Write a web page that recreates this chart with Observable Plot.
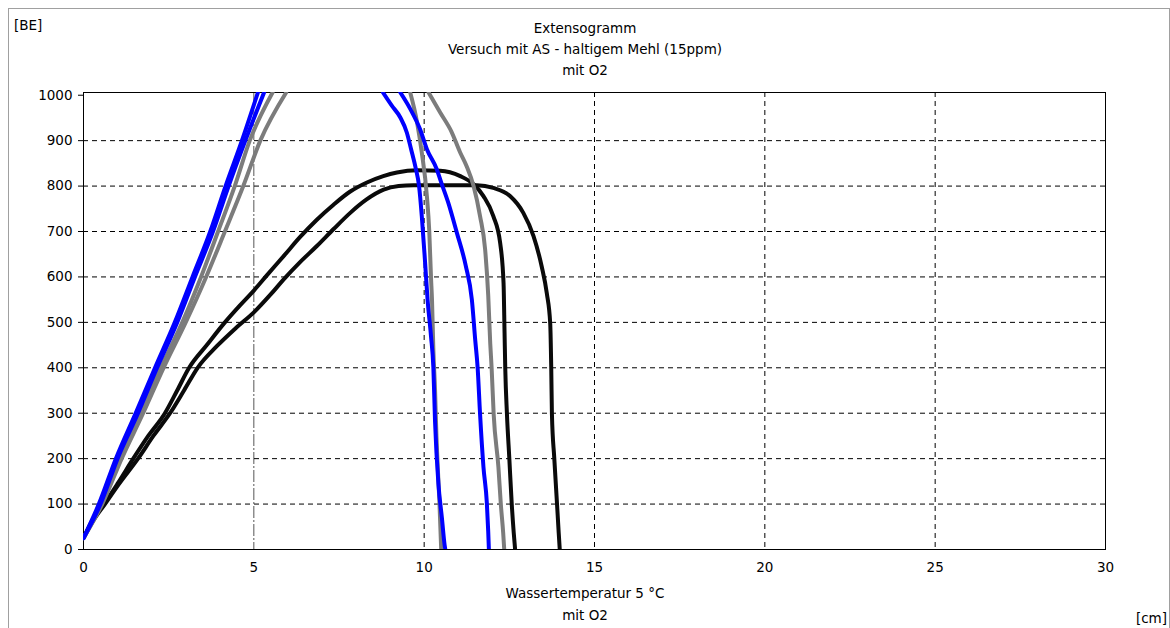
<!DOCTYPE html>
<html><head><meta charset="utf-8">
<script src="https://cdn.jsdelivr.net/npm/d3@7"></script>
<script src="https://cdn.jsdelivr.net/npm/@observablehq/plot@0.6"></script>
<style>
body{margin:0;background:#fff;}
#wrap{position:relative;width:1170px;height:628px;overflow:hidden;font-family:"DejaVu Sans",sans-serif;font-size:13.5px;color:#000;background:#fff;}
#border{position:absolute;left:8px;top:8px;width:1162px;height:700px;border:1px solid #a0a0a0;box-sizing:border-box;}
#chart{position:absolute;left:0;top:0;}
.t{position:absolute;white-space:nowrap;}
</style></head><body>
<div id="wrap">
  <div id="border"></div>
  <div id="chart"></div>
  <div class="t" id="title" style="left:0;width:1170px;text-align:center;top:18px;line-height:21px;"></div>
  <div class="t" id="ylab" style="left:14px;top:15px;line-height:20px;"></div>
  <div class="t" id="xcap" style="left:0;width:1170px;text-align:center;top:582px;line-height:22px;"></div>
  <div class="t" id="xunit" style="right:3px;top:608px;line-height:20px;"></div>
</div>
<script>
// ---- texts ----
const titleLines = ["Extensogramm", "Versuch mit AS - haltigem Mehl (15ppm)", "mit O2"];
const captionLines = ["Wassertemperatur 5 °C", "mit O2"];
const yUnit = "[BE]";
const xUnit = "[cm]";

// ---- ticks ----
const xTicks = [0, 5, 10, 15, 20, 25, 30];
const yTicks = [0, 100, 200, 300, 400, 500, 600, 700, 800, 900, 1000];

// ---- curves [cm, BE] (parts above 1000 are off-chart) ----
const blueAUp = [[0,25],[0.45,100],[0.95,200],[1.53,300],[2.1,400],[2.68,500],[3.2,600],[3.72,700],[4.17,800],[4.65,900],[5.12,1006]];
const blueADown = [[8.79,1006],[9.05,977],[9.3,951],[9.49,918],[9.62,880],[9.75,840],[9.85,800],[9.93,734],[10.02,640],[10.1,550],[10.2,470],[10.27,400],[10.32,280],[10.42,143],[10.52,70],[10.6,10],[10.62,0]];
const blueBUp = [[0,25],[0.5,100],[1.0,200],[1.6,300],[2.16,400],[2.75,500],[3.27,600],[3.8,700],[4.26,800],[4.75,900],[5.3,1006]];
const blueBDown = [[9.3,1006],[9.59,970],[9.88,925],[10.08,881],[10.37,837],[10.5,808],[10.7,765],[10.96,697],[11.22,625],[11.4,550],[11.5,460],[11.57,400],[11.64,299],[11.74,182],[11.84,102],[11.88,40],[11.9,0]];
const greyCUp = [[0,25],[0.5,100],[1.05,200],[1.68,300],[2.27,400],[2.9,500],[3.45,600],[3.95,700],[4.44,800],[4.88,900],[5.55,1006]];
const greyCDown = [[9.59,1006],[9.79,941],[9.93,874],[10.08,778],[10.15,700],[10.2,600],[10.23,549],[10.27,439],[10.32,350],[10.36,250],[10.4,180],[10.45,100],[10.5,0]];
const greyDUp = [[0,25],[0.55,100],[1.12,200],[1.75,300],[2.35,400],[3.0,500],[3.6,600],[4.15,700],[4.69,800],[5.19,900],[5.95,1006]];
const greyDDown = [[10.13,1006],[10.47,962],[10.8,920],[11.05,875],[11.25,843],[11.45,800],[11.64,734],[11.79,660],[11.88,560],[11.94,453],[11.98,400],[12.04,298],[12.18,181],[12.25,100],[12.32,36],[12.35,0]];
const blackE = [[0,25],[0.3,70],[0.6,100],[1.0,145],[1.46,200],[1.9,250],[2.39,300],[2.75,350],[3.1,400],[3.62,450],[4.15,500],[4.6,538],[5.0,570],[5.4,605],[5.9,648],[6.36,688],[6.85,726],[7.34,759],[7.83,788],[8.32,808],[8.8,822],[9.2,830],[9.79,835],[10.47,834],[11.06,822],[11.45,804],[11.74,778],[12.03,734],[12.23,675],[12.33,587],[12.36,476],[12.38,400],[12.43,298],[12.5,200],[12.57,101],[12.63,36],[12.67,0]];
const blackF = [[0,25],[0.3,65],[0.63,100],[1.05,145],[1.6,200],[2.05,250],[2.54,300],[2.95,350],[3.35,400],[3.92,448],[4.48,488],[5.0,522],[5.5,562],[5.87,594],[6.35,632],[6.85,668],[7.35,706],[7.83,741],[8.3,770],[8.81,792],[9.25,800],[9.69,802],[10.5,802],[11.55,802],[12.03,796],[12.52,778],[12.91,741],[13.21,690],[13.45,623],[13.6,564],[13.7,498],[13.73,400],[13.75,299],[13.82,200],[13.9,100],[13.95,36],[13.98,0]];

const colors = {black: "#0a0a0a", grey: "#7c7c7c", blue: "#0000ff"};
const segments = [
  ["black","E",blackE],["black","F",blackF],
  ["grey","C1",greyCUp],["grey","C2",greyCDown],["grey","D1",greyDUp],["grey","D2",greyDDown],
  ["blue","A1",blueAUp],["blue","A2",blueADown],["blue","B1",blueBUp],["blue","B2",blueBDown]
];
const rows = segments.flatMap(([c, id, pts]) => pts.map(([x, y]) => ({x, y, c, id})));

document.getElementById("title").innerHTML = titleLines.join("<br>");
document.getElementById("xcap").innerHTML = captionLines.join("<br>");
document.getElementById("ylab").textContent = yUnit;
document.getElementById("xunit").textContent = xUnit;

const lineMark = (c) => Plot.line(rows.filter(d => d.c === c), {
  x: "x", y: "y", z: "id", stroke: colors[c], strokeWidth: 4, strokeLinejoin: "round",
  curve: "monotone-x", clip: true
});

const chart = Plot.plot({
  width: 1170, height: 628,
  marginLeft: 83, marginRight: 65, marginTop: 92, marginBottom: 79,
  style: {fontFamily: "DejaVu Sans, sans-serif", fontSize: "13.5px", background: "transparent", color: "#000"},
  x: {domain: [0, 30], ticks: xTicks, tickSize: 0, tickPadding: 13, label: null, tickFormat: d => String(d)},
  y: {domain: [0, 1006], ticks: yTicks, tickSize: 5, tickPadding: 6, label: null, tickFormat: d => String(d)},
  marks: [
    Plot.gridX(xTicks.filter(v => v > 5 && v < 30), {stroke: "#000", strokeOpacity: 1, strokeDasharray: "5,4"}),
    Plot.gridX([5], {stroke: "#555", strokeOpacity: 1, strokeDasharray: "12,2,2,2"}),
    Plot.gridY(yTicks.filter(v => v > 0 && v < 1000), {stroke: "#000", strokeOpacity: 1, strokeDasharray: "5,4"}),
    Plot.frame({stroke: "#000"}),
    lineMark("black"),
    lineMark("grey"),
    lineMark("blue")
  ]
});
document.getElementById("chart").appendChild(chart);
</script>
</body></html>
